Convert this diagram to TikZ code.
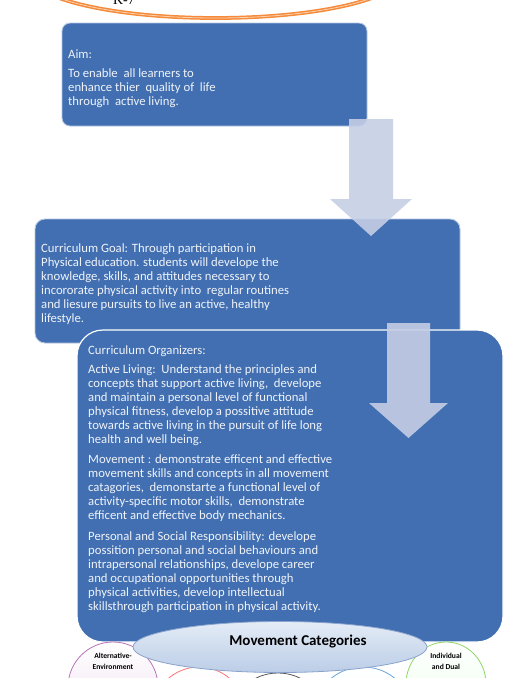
\documentclass[tikz,border=0pt]{standalone}
\usepackage{fontspec}
\setmainfont{Carlito}
\newfontfamily\gradefont{Liberation Serif}
\usepackage{tikz}
\usetikzlibrary{
  shapes.geometric,
  positioning
}
\usepackage{xcolor}
\definecolor{boxblue}{HTML}{416FB1}
\definecolor{boxedge}{HTML}{B4C6E2}
\definecolor{arrowfill}{HTML}{C5CEE4}
\definecolor{textwhite}{HTML}{F0F3F9}
\definecolor{gradeorange}{HTML}{F58A3A}
\definecolor{gradeinner}{HTML}{FBD1AE}
\definecolor{catedge}{HTML}{8AA3CC}
\definecolor{cattop}{HTML}{E4ECF7}
\definecolor{catbottom}{HTML}{BBCDE6}
\newcommand{\gap}{\ \ }
\tikzset{
  info box/.style={
    draw=boxedge, fill=boxblue, line width=0.9pt,
    rectangle, inner sep=0pt
  },
  info text/.style={
    anchor=north west, inner sep=0pt, align=left,
    text=textwhite, font=\fontsize{12.7}{14}\selectfont
  },
  flow arrow/.style={
    fill=arrowfill, fill opacity=0.9, draw=none
  },
  category/.style={
    ellipse, line width=0.8pt, inner sep=0pt
  },
  category text/.style={
    align=center, inner sep=0pt, anchor=north,
    font=\bfseries\fontsize{7.6}{11}\selectfont
  },
}

\begin{document}
\begin{tikzpicture}[x=1pt, y=-1pt]

  \useasboundingbox (0,0) rectangle (505,678);
  \clip (0,0) rectangle (505,678);

  % Grade banner (cut off at the top)
  \node[ellipse, draw=gradeorange, double=gradeinner, double distance=0.8pt,
        line width=1.5pt, fill=white, minimum width=370pt, minimum height=86pt]
        (grade) at (215.5,-25) {};
  \node[font=\gradefont\fontsize{14}{16}\selectfont, anchor=base] (gradetext)
        at (124,4) {K-7};

  % Aim
  \node[info box, rounded corners=8pt, minimum width=305pt, minimum height=103pt]
        (aim) at (214.5,74.5) {};
  \node[info text] (aimtext) at (68,49.5)
    {Aim:\\[5pt]
     To enable\gap all learners to\\
     enhance thier\gap quality of\gap life\\
     through\gap active living.};

  % Curriculum goal
  \node[info box, rounded corners=10pt, minimum width=425pt, minimum height=124pt]
        (goal) at (247.5,281) {};
  \node[info text] (goaltext) at (41,243)
    {Curriculum Goal: Through participation in\\
     Physical education. students will develope the\\
     knowledge, skills, and attitudes necessary to\\
     incororate physical activity into\gap regular routines\\
     and liesure pursuits to live an active, healthy\\
     lifestyle.};

  % Curriculum organizers
  \node[info box, draw=white, line width=1.2pt, rounded corners=26pt,
        minimum width=426pt, minimum height=312pt]
        (organizers) at (290,486) {};
  \node[info text] (orgtext) at (88,345)
    {Curriculum Organizers:\\[5pt]
     Active Living:\gap Understand the principles and\\
     concepts that support active living,\gap develope\\
     and maintain a personal level of functional\\
     physical fitness, develop a possitive attitude\\
     towards active living in the pursuit of life long\\
     health and well being.\\[6pt]
     Movement : demonstrate efficent and effective\\
     movement skills and concepts in all movement\\
     catagories,\gap demonstarte a functional level of\\
     activity-specific motor skills,\gap demonstrate\\
     efficent and effective body mechanics.\\[7pt]
     Personal and Social Responsibility: develope\\
     possition personal and social behaviours and\\
     intrapersonal relationships, develope career\\
     and occupational opportunities through\\
     physical activities, develop intellectual\\
     skillsthrough participation in physical activity.};

  % Block arrows
  \fill[flow arrow] (349,119) -- (393,119) -- (393,199) -- (412,199)
    -- (371,236) -- (330,199) -- (349,199) -- cycle;
  \fill[flow arrow] (387,323) -- (430,323) -- (430,403) -- (448,403)
    -- (408.5,438) -- (369,403) -- (387,403) -- cycle;

  % Movement categories
  \node[category, draw=violet!55, top color=white, bottom color=violet!12,
        minimum width=90pt, minimum height=90pt] (alternative) at (113,687) {};
  \node[category, draw=red!55, top color=white, bottom color=red!8,
        minimum width=92pt, minimum height=90pt] (games) at (199,712) {};
  \node[category, draw=black!65, top color=white, bottom color=black!6,
        minimum width=90pt, minimum height=80pt] (gymnastics) at (278,713) {};
  \node[category, draw=cyan!60!blue!60, top color=white, bottom color=cyan!8,
        minimum width=96pt, minimum height=90pt] (dance) at (363,712) {};
  \node[category, draw=green!45!olive!60, top color=white, bottom color=green!8,
        minimum width=80pt, minimum height=84pt] (individual) at (446,684) {};
  \node[category text] (alttext) at (113,653) {Alternative-\\Environment};
  \node[category text] (indtext) at (446,653) {Individual\\and Dual};

  \node[category, draw=catedge, top color=cattop, bottom color=catbottom,
        minimum width=294pt, minimum height=51pt] (movement) at (280,647) {};
  \node[font=\bfseries\fontsize{15}{17}\selectfont, anchor=base] (movetext)
        at (298,645) {Movement Categories};

\end{tikzpicture}
\end{document}
